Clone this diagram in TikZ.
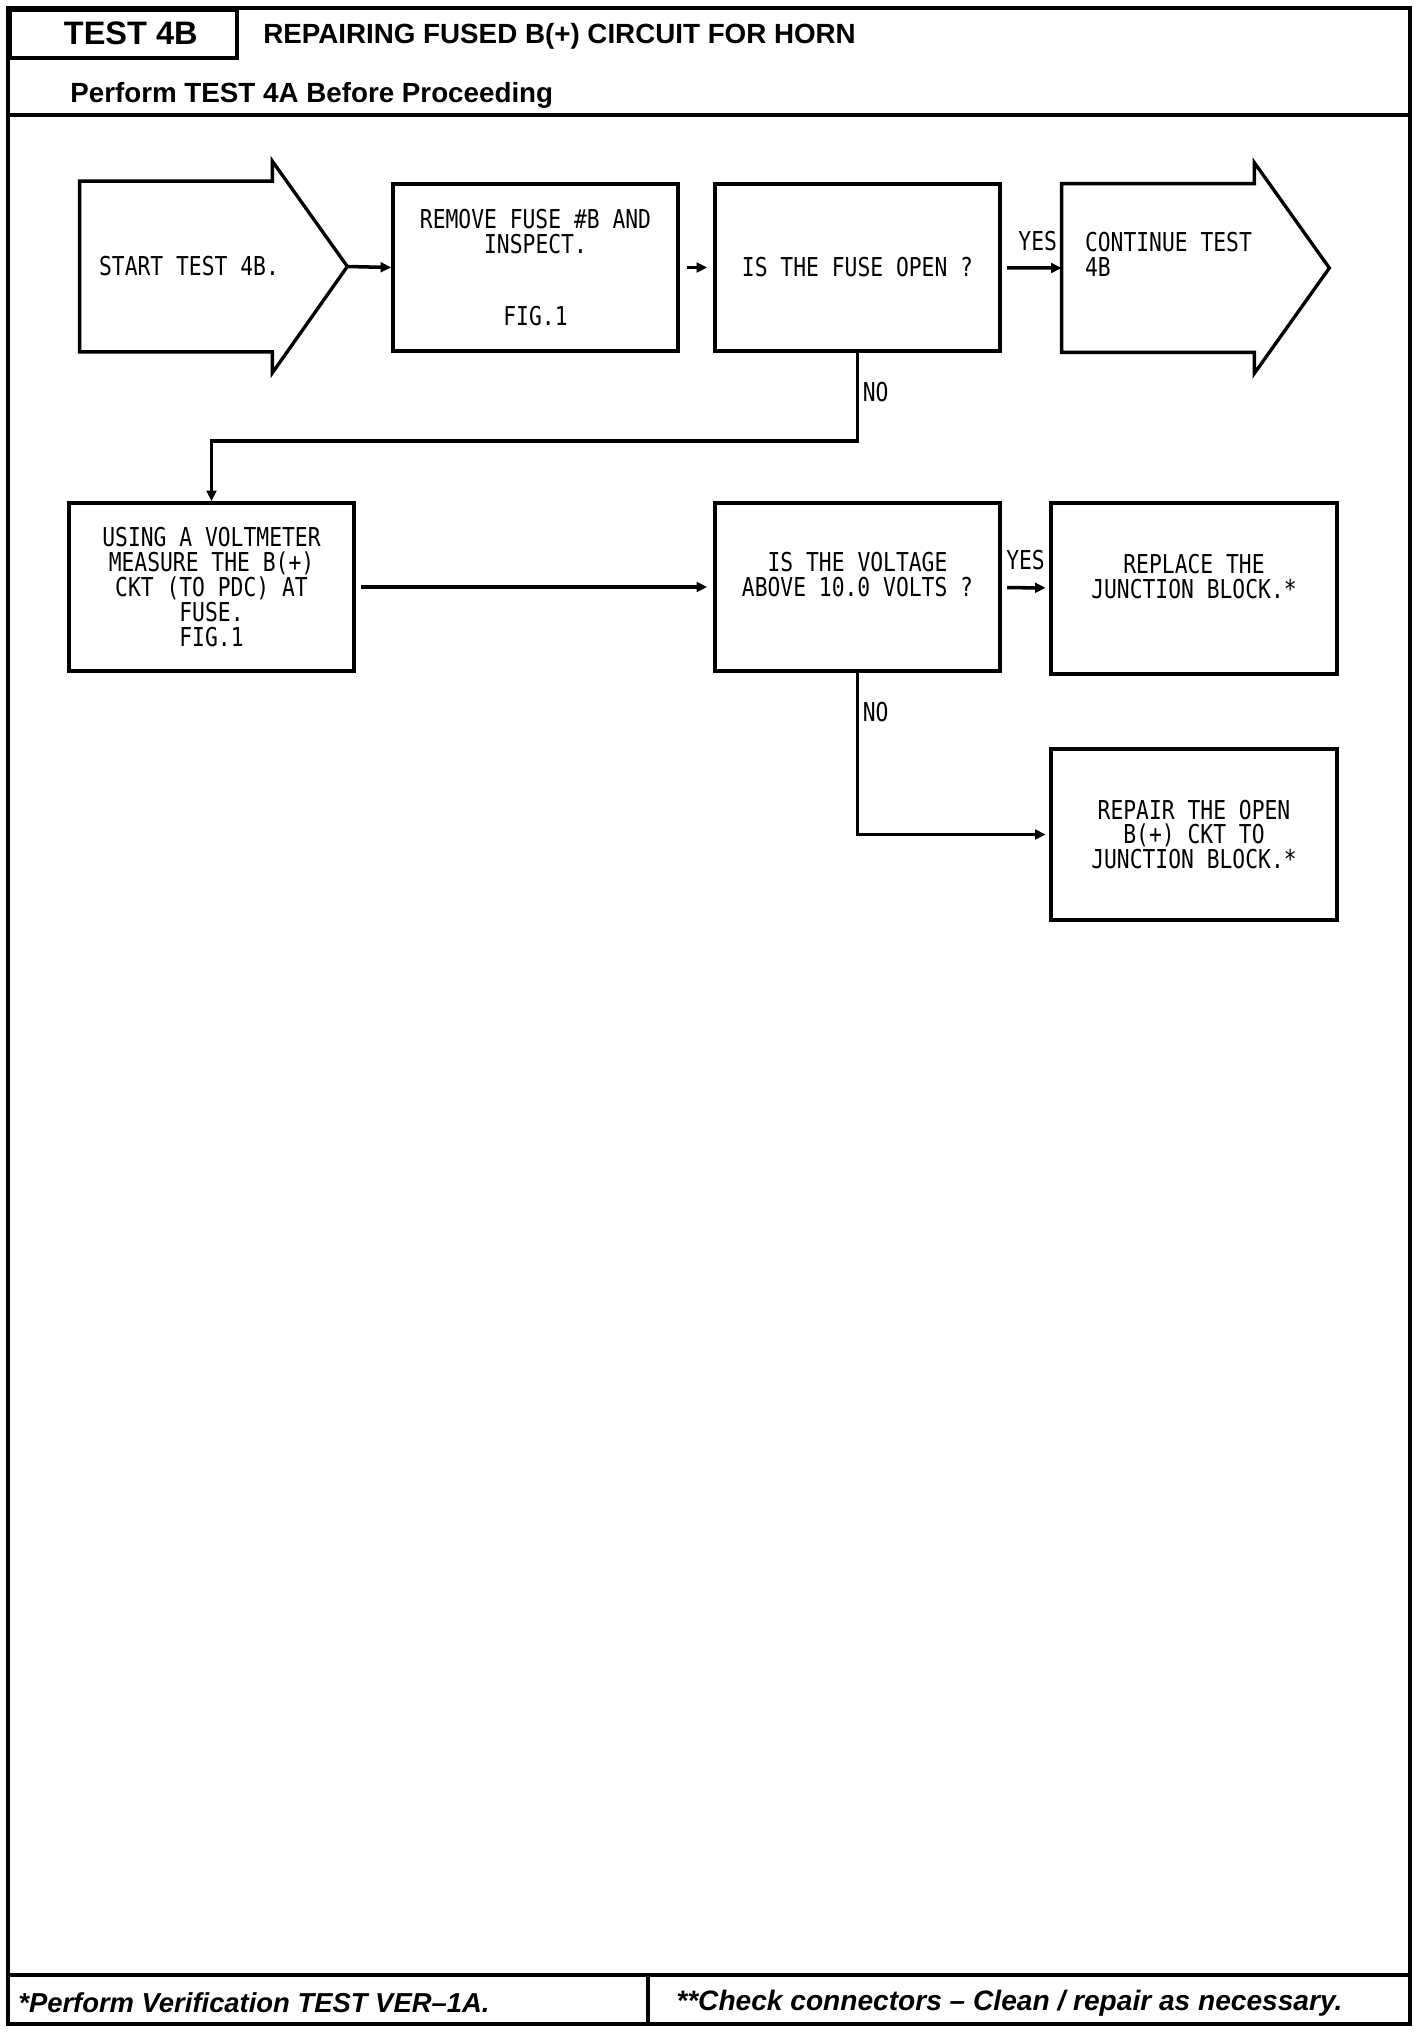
\documentclass[tikz,border=0pt]{standalone}
\usepackage{fontspec}
\usepackage{tikz}
\usetikzlibrary{arrows.meta,positioning,calc}
\newfontfamily\boxfnt[FakeStretch=0.82]{DejaVu Sans Mono}
\newfontfamily\hdfnt{Liberation Sans}
\def\px{0.02cm}
\def\bxf{\boxfnt\fontsize{14.8}{14.2}\selectfont}
\tikzset{
  blk/.style     = {draw, line width=2.1pt, minimum width=285*\px, minimum height=167*\px,
                    inner sep=0pt, align=center, font=\bxf},
  body/.style    = {minimum width=192*\px, minimum height=170*\px, inner sep=0pt, font=\bxf},
  outl/.style    = {line width=1.9pt, line join=miter},
  edg/.style     = {->, line width=2pt},
  yn/.style      = {font=\bxf, inner sep=2pt},
  hd/.style      = {font=\hdfnt\bfseries\fontsize{15.8}{18}\selectfont, inner sep=0pt},
  ft/.style      = {font=\hdfnt\bfseries\itshape\fontsize{15.6}{18}\selectfont, inner sep=0pt},
  rule/.style    = {line width=2pt},
}

\begin{document}
\begin{tikzpicture}[x=\px, y=-\px, >={Triangle[length=6pt,width=5.5pt]}]
  \useasboundingbox (0,0) rectangle (1424,2032);
  % frame, header, footer
  \draw[rule] (8,8) rectangle (1410,2024);
  \node[draw, rule, hd, font=\hdfnt\bfseries\fontsize{18.5}{20}\selectfont,
        minimum width=227*\px, minimum height=48*\px, anchor=north west] (tst) at (8,8)
        {\hspace*{0.3cm}TEST 4B};
  \node[hd, anchor=west] (ttl) at (263,36) {REPAIRING FUSED B(+) CIRCUIT FOR HORN};
  \node[hd, anchor=west] (pre) at (70,95) {Perform TEST 4A Before Proceeding};
  \draw[line width=2.4pt] (8,115) -- (1410,115);
  \draw[rule] (8,1975) -- (1410,1975);
  \draw[rule] (648,1975) -- (648,2024);
  \node[ft, anchor=west] (ftl) at (18,2003) {*Perform Verification TEST VER–1A.};
  \node[ft, font=\hdfnt\bfseries\itshape\fontsize{16}{18}\selectfont, anchor=west] (ftr) at (676,2003)
        {**Check connectors – Clean / repair as necessary.};

  % first row
  \node[body] (start) at (176,266.5) {\makebox[0pt]{\hspace*{0.52cm}START TEST 4B.}};
  \coordinate (starttip) at ($(start.east)+(75,0)$);
  \draw[outl] (start.north west) -- (start.north east) -- ++(0,-20) -- (starttip)
              -- ($(start.south east)+(0,21)$) -- (start.south east) -- (start.south west) -- cycle;
  \node[blk] (remove) at (535.5,267.5) {REMOVE FUSE \#B AND\\INSPECT.\\[27pt]FIG.1};
  \node[blk] (fuse) at (857.5,267.5) {IS THE FUSE OPEN ?};
  \node[body, minimum height=168*\px] (cont) at (1158,268) {};
  \coordinate (conttip) at ($(cont.east)+(75,0)$);
  \draw[outl] (cont.north west) -- (cont.north east) -- ++(0,-21) -- (conttip)
              -- ($(cont.south east)+(0,21)$) -- (cont.south east) -- (cont.south west) -- cycle;
  \node[yn, inner sep=0pt, anchor=north west, align=left] (conttxt) at ($(cont.north west)+(23,48)$)
        {CONTINUE TEST\\4B};

  \draw[edg] (starttip) -- (remove.west);
  \draw[edg, shorten <=4pt, shorten >=3.4pt] (remove) -- (fuse);
  \draw[edg, shorten <=3pt] (fuse) -- node[yn, above=7pt, pos=0.6] {YES} (cont.west);

  % second row
  \node[blk, minimum height=168*\px] (volt) at (211.5,587)
        {USING A VOLTMETER\\MEASURE THE B(+)\\CKT (TO PDC) AT\\FUSE.\\FIG.1};
  \node[blk, minimum height=168*\px] (vol) at (857.5,587) {IS THE VOLTAGE\\ABOVE 10.0 VOLTS ?\\\mbox{}};
  \node[blk, minimum width=286*\px, minimum height=171*\px] (repl) at (1194,588.5)
        {REPLACE THE\\JUNCTION BLOCK.*\\\mbox{}};
  \node[blk, minimum width=286*\px, minimum height=171*\px] (rep) at (1194,834.5)
        {REPAIR THE OPEN\\B(+) CKT TO\\JUNCTION BLOCK.*};

  \draw[edg] (fuse.south) -- node[yn, right, pos=0.44] {NO} ++(0,88) -| (volt.north);
  \draw[edg, shorten <=3pt, shorten >=3.4pt] (volt) -- (vol);
  \draw[edg, shorten <=3pt, shorten >=2pt] (vol) -- node[yn, above=7pt] {YES} (repl);
  \draw[edg, shorten >=2pt] (vol.south) |- node[yn, right, pos=0.12] {NO} (rep.west);
\end{tikzpicture}
\end{document}
